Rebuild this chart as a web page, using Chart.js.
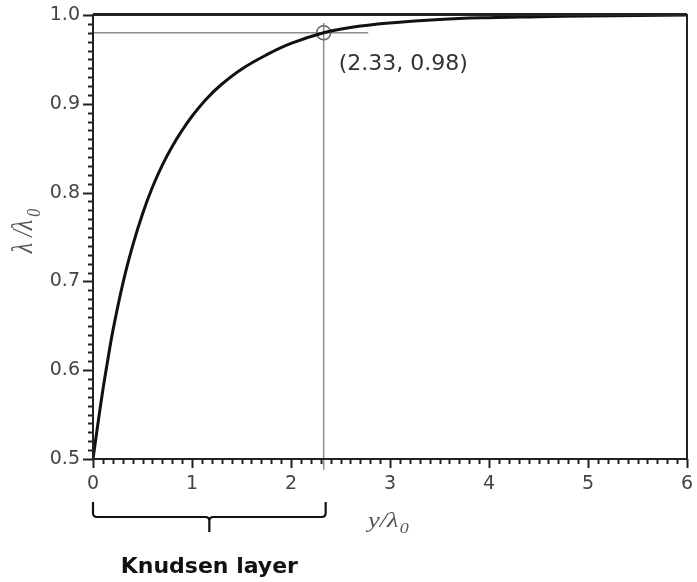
<!DOCTYPE html>
<html>
<head>
<meta charset="utf-8">
<script src="https://cdn.jsdelivr.net/npm/chart.js@4/dist/chart.umd.min.js"></script>
<style>
  html, body { margin: 0; padding: 0; background: #fff; }
  #wrap { width: 697px; height: 582px; }
</style>
</head>
<body>
<div id="wrap"><canvas id="knudsen" width="697" height="582"></canvas></div>
<script>
// mean free path ratio vs. wall distance
var distance = [0, 0.05, 0.1, 0.15, 0.2, 0.3, 0.4, 0.5, 0.6, 0.7, 0.8, 0.9, 1.0, 1.15, 1.3, 1.5, 1.75, 2.0, 2.33, 2.6, 3.0, 3.5, 4.0, 4.5, 5.0, 6.0];
var ratio = [0.5, 0.54, 0.578, 0.612, 0.644, 0.697, 0.740, 0.776, 0.806, 0.831, 0.852, 0.870, 0.886, 0.906, 0.922, 0.939, 0.955, 0.968, 0.98, 0.986, 0.991, 0.995, 0.997, 0.998, 0.999, 1.0];

// marked point and the guide lines through it
var markX = 2.33;
var markY = 0.98;
var guideEndX = 2.78;
var guideBottomY = 0.488;
var guideTopY = 0.991;

var xTicks = [0, 1, 2, 3, 4, 5, 6];
var yTicks = [0.5, 0.6, 0.7, 0.8, 0.9, 1.0];

var curve = distance.map(function (d, i) { return { x: d, y: ratio[i] }; });

var tickFont = { family: 'DejaVu Sans', size: 19 };
var ink = '#222';
var guideColor = '#8c8c8c';

var decorations = {
    id: 'decorations',
    afterDraw: function (chart) {
        var ctx = chart.ctx;
        var xs = chart.scales.x, ys = chart.scales.y;
        var area = chart.chartArea;

        ctx.save();
        // frame
        ctx.strokeStyle = ink;
        ctx.lineWidth = 2;
        ctx.strokeRect(area.left, area.top, area.right - area.left, area.bottom - area.top);
        ctx.beginPath();
        ctx.moveTo(area.left, area.top - 1);
        ctx.lineTo(area.right, area.top - 1);
        ctx.stroke();

        // y ticks every 0.01, long ones at labels
        ctx.lineWidth = 2;
        ctx.beginPath();
        for (var i = 50; i <= 100; i++) {
            var py = Math.round(ys.getPixelForValue(i / 100)) + 0.5;
            var len = (i % 10 === 0) ? 10 : 5;
            ctx.moveTo(area.left - len, py);
            ctx.lineTo(area.left, py);
        }
        // x ticks every 0.1
        for (var j = 0; j <= 60; j++) {
            var px = Math.round(xs.getPixelForValue(j / 10)) + 0.5;
            var l = (j % 10 === 0) ? 9 : 5;
            ctx.moveTo(px, area.bottom);
            ctx.lineTo(px, area.bottom + l);
        }
        ctx.stroke();

        // point label
        var mx = xs.getPixelForValue(markX);
        var my = ys.getPixelForValue(markY);
        ctx.fillStyle = '#333';
        ctx.font = '22px "DejaVu Sans"';
        ctx.textAlign = 'left';
        ctx.textBaseline = 'alphabetic';
        ctx.fillText('(' + markX.toFixed(2) + ', ' + markY.toFixed(2) + ')', mx + 15, my + 37);

        // brace under the Knudsen layer
        var x0 = xs.getPixelForValue(0);
        var x1 = xs.getPixelForValue(markX) + 2;
        var mid = (x0 + x1) / 2;
        var top = area.bottom + 43, bar = area.bottom + 58, tip = area.bottom + 73;
        ctx.strokeStyle = '#111';
        ctx.lineWidth = 2.2;
        ctx.beginPath();
        ctx.moveTo(x0, top);
        ctx.lineTo(x0, bar - 4);
        ctx.quadraticCurveTo(x0, bar, x0 + 4, bar);
        ctx.lineTo(mid - 4, bar);
        ctx.quadraticCurveTo(mid, bar, mid, bar + 4);
        ctx.lineTo(mid, tip);
        ctx.moveTo(x1, top);
        ctx.lineTo(x1, bar - 4);
        ctx.quadraticCurveTo(x1, bar, x1 - 4, bar);
        ctx.lineTo(mid + 4, bar);
        ctx.quadraticCurveTo(mid, bar, mid, bar + 4);
        ctx.stroke();

        ctx.fillStyle = '#111';
        ctx.font = 'bold 22px "DejaVu Sans"';
        ctx.textAlign = 'center';
        ctx.fillText('Knudsen layer', mid, area.bottom + 114);

        // axis titles, italic serif with subscript
        ctx.fillStyle = '#555';
        ctx.textAlign = 'left';
        ctx.save();
        ctx.translate(368, area.bottom + 68);
        ctx.scale(1.2, 1);
        ctx.font = 'italic 22px "Liberation Serif"';
        ctx.fillText('y/λ', 0, 0);
        var w = ctx.measureText('y/λ').width;
        ctx.font = 'italic 15px "Liberation Serif"';
        ctx.fillText('0', w + 1, 6);
        ctx.restore();

        ctx.save();
        ctx.translate(32, (area.top + area.bottom) / 2 - 6);
        ctx.rotate(-Math.PI / 2);
        ctx.scale(1, 1.2);
        ctx.font = 'italic 24px "Liberation Serif"';
        var main = 'λ /λ';
        var wm = ctx.measureText(main).width;
        ctx.font = 'italic 16px "Liberation Serif"';
        var ws = ctx.measureText('0').width;
        var start = -(wm + ws + 3) / 2;
        ctx.font = 'italic 24px "Liberation Serif"';
        ctx.fillText(main, start, 0);
        ctx.font = 'italic 16px "Liberation Serif"';
        ctx.fillText('0', start + wm + 3, 7);
        ctx.restore();

        ctx.restore();
    }
};

new Chart(document.getElementById('knudsen').getContext('2d'), {
    type: 'scatter',
    data: {
        datasets: [
            {
                label: 'curve',
                data: curve,
                showLine: true,
                borderColor: '#111',
                borderWidth: 3,
                pointRadius: 0,
                tension: 0.4,
                fill: false
            },
            {
                label: 'marker',
                data: [{ x: markX, y: markY }],
                pointRadius: 7,
                pointStyle: 'circle',
                borderColor: '#666',
                borderWidth: 1.5,
                backgroundColor: 'rgba(0,0,0,0)',
                showLine: false
            },
            {
                label: 'hguide',
                data: [{ x: 0, y: markY }, { x: guideEndX, y: markY }],
                showLine: true,
                borderColor: guideColor,
                borderWidth: 1.5,
                pointRadius: 0
            },
            {
                label: 'vguide',
                data: [{ x: markX, y: guideBottomY }, { x: markX, y: guideTopY }],
                showLine: true,
                borderColor: guideColor,
                borderWidth: 1.5,
                pointRadius: 0,
                clip: false
            }
        ]
    },
    options: {
        responsive: false,
        animation: false,
        devicePixelRatio: 1,
        layout: { padding: { left: 0, right: 10, top: 15, bottom: 0 } },
        plugins: {
            legend: { display: false },
            tooltip: { enabled: false }
        },
        scales: {
            x: {
                type: 'linear',
                min: 0,
                max: 6,
                afterBuildTicks: function (scale) {
                    scale.ticks = xTicks.map(function (v) { return { value: v }; });
                },
                afterFit: function (scale) {
                    scale.height = 123;
                    scale.paddingLeft = 0;
                    scale.paddingRight = 0;
                },
                ticks: {
                    font: tickFont,
                    color: '#444',
                    padding: 14,
                    maxRotation: 0,
                    callback: function (v) { return String(v); }
                },
                grid: { display: false, drawTicks: false },
                border: { display: false }
            },
            y: {
                type: 'linear',
                min: 0.5,
                max: 1.0,
                afterBuildTicks: function (scale) {
                    scale.ticks = yTicks.map(function (v) { return { value: v }; });
                },
                afterFit: function (scale) {
                    scale.width = 93;
                    scale.paddingTop = 0;
                    scale.paddingBottom = 0;
                },
                ticks: {
                    font: tickFont,
                    color: '#444',
                    padding: 13,
                    callback: function (v) { return Number(v).toFixed(1); }
                },
                grid: { display: false, drawTicks: false },
                border: { display: false }
            }
        }
    },
    plugins: [decorations]
});
</script>
</body>
</html>
